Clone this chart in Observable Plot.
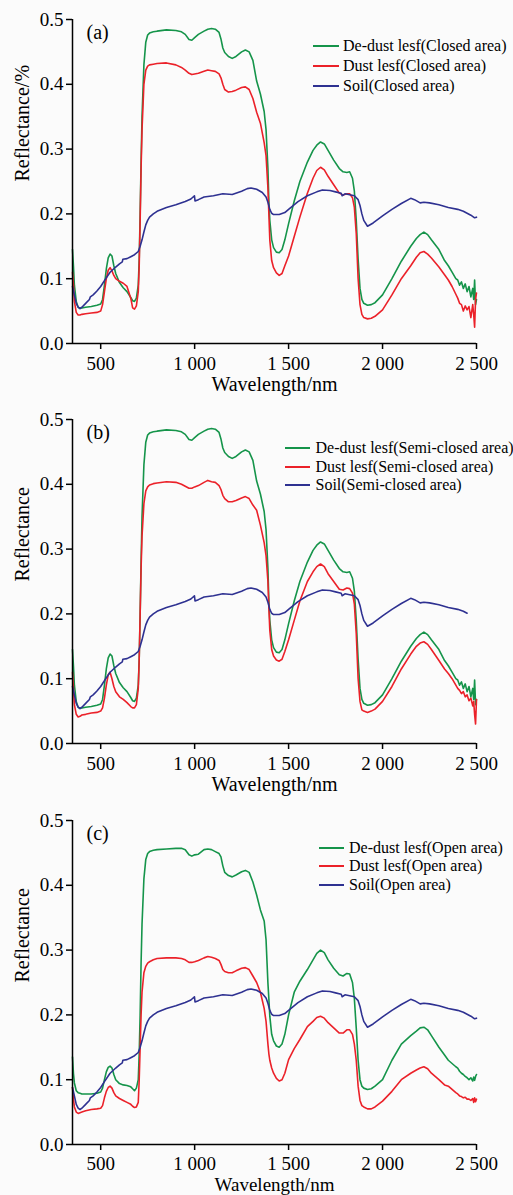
<!DOCTYPE html>
<html><head><meta charset="utf-8">
<script src="https://cdn.jsdelivr.net/npm/d3@7"></script>
<script src="https://cdn.jsdelivr.net/npm/@observablehq/plot@0.6"></script>
<style>
html,body{margin:0;padding:0;background:#fbfbfb;}
#root{width:513px;height:1195px;overflow:hidden;font-family:"Liberation Serif",serif;}
.panel{position:relative;width:513px;overflow:visible;}
.panel svg{display:block;font-family:"Liberation Serif",serif;}
.panel svg text{font-family:"Liberation Serif",serif;}
.lg-row{position:absolute;height:20px;line-height:20px;font-size:16px;color:#000;white-space:nowrap;font-family:"Liberation Serif",serif;}
.lg-sw{position:absolute;top:9px;height:2px;}
</style></head><body><div id="root"></div>
<script>
// ---- data ----
const wavelengths = [350,355,360,370,380,390,400,420,450,480,
500,510,520,530,540,550,560,570,580,600,
620,640,660,670,680,690,700,705,710,715,
720,730,740,750,760,780,800,850,900,930,
950,970,985,1000,1020,1050,1070,1090,1110,1130,
1140,1150,1160,1180,1200,1220,1250,1270,1290,1310,
1330,1350,1370,1380,1390,1395,1400,1410,1420,1435,
1450,1465,1480,1500,1530,1560,1600,1630,1650,1670,
1690,1710,1740,1770,1790,1810,1825,1840,1850,1860,
1870,1880,1890,1900,1920,1940,1960,2000,2050,2100,
2150,2180,2200,2220,2240,2260,2300,2330,2350,2370,
2390,2400,2410,2420,2430,2440,2450,2460,2470,2480,
2485,2490,2495,2500];

// De-dust leaf, closed and semi-closed areas (identical curves in the figure)
const deDustClosed = [0.145,0.12,0.09,0.065,0.056,0.054,0.055,0.056,0.057,0.059,
0.061,0.068,0.09,0.115,0.132,0.138,0.135,0.12,0.108,0.094,
0.086,0.08,0.071,0.066,0.065,0.07,0.09,0.13,0.2,0.28,
0.35,0.43,0.465,0.476,0.479,0.481,0.482,0.484,0.483,0.481,
0.477,0.469,0.468,0.472,0.477,0.482,0.485,0.486,0.485,0.48,
0.47,0.456,0.449,0.443,0.44,0.443,0.45,0.453,0.45,0.437,
0.405,0.385,0.358,0.33,0.27,0.22,0.19,0.16,0.148,0.141,
0.14,0.145,0.16,0.185,0.22,0.25,0.28,0.298,0.306,0.311,
0.308,0.298,0.283,0.27,0.265,0.264,0.265,0.255,0.235,0.19,
0.13,0.085,0.068,0.062,0.059,0.06,0.063,0.075,0.1,0.127,
0.15,0.162,0.168,0.172,0.168,0.16,0.145,0.128,0.12,0.11,
0.1,0.098,0.09,0.095,0.085,0.092,0.08,0.088,0.072,0.085,
0.068,0.098,0.06,0.068];
const deDustSemiClosed = deDustClosed;

const dustClosed = [0.11,0.09,0.065,0.048,0.044,0.044,0.045,0.046,0.047,0.048,
0.05,0.06,0.08,0.1,0.113,0.117,0.112,0.105,0.1,0.096,
0.093,0.088,0.07,0.055,0.053,0.058,0.08,0.12,0.19,0.27,
0.33,0.4,0.422,0.428,0.43,0.431,0.432,0.433,0.43,0.426,
0.422,0.417,0.415,0.416,0.417,0.42,0.422,0.421,0.42,0.416,
0.41,0.4,0.392,0.388,0.389,0.391,0.395,0.396,0.392,0.378,
0.357,0.34,0.31,0.29,0.24,0.2,0.16,0.128,0.117,0.109,
0.105,0.108,0.12,0.135,0.165,0.195,0.232,0.255,0.267,0.272,
0.268,0.258,0.245,0.232,0.229,0.231,0.231,0.225,0.21,0.17,
0.1,0.06,0.045,0.04,0.038,0.039,0.042,0.052,0.075,0.1,
0.12,0.133,0.14,0.142,0.138,0.132,0.118,0.106,0.098,0.088,
0.076,0.07,0.062,0.06,0.05,0.058,0.052,0.057,0.04,0.06,
0.045,0.025,0.068,0.078];

const dustSemiClosed = [0.11,0.085,0.06,0.045,0.041,0.042,0.044,0.045,0.047,0.048,
0.05,0.055,0.07,0.09,0.106,0.11,0.1,0.088,0.08,0.072,
0.068,0.063,0.057,0.055,0.055,0.06,0.085,0.13,0.2,0.27,
0.32,0.37,0.39,0.396,0.399,0.401,0.402,0.404,0.403,0.4,
0.397,0.394,0.394,0.396,0.398,0.403,0.406,0.404,0.403,0.398,
0.392,0.383,0.378,0.373,0.373,0.375,0.379,0.381,0.378,0.368,
0.36,0.337,0.31,0.29,0.25,0.21,0.175,0.145,0.135,0.129,
0.127,0.13,0.142,0.16,0.19,0.22,0.25,0.265,0.273,0.277,
0.273,0.262,0.25,0.238,0.237,0.24,0.239,0.232,0.215,0.17,
0.1,0.065,0.052,0.05,0.048,0.05,0.053,0.065,0.088,0.115,
0.138,0.15,0.155,0.157,0.153,0.145,0.128,0.115,0.108,0.1,
0.09,0.085,0.082,0.077,0.08,0.072,0.075,0.066,0.07,0.058,
0.065,0.045,0.03,0.068];

const deDustOpen = [0.135,0.11,0.095,0.083,0.08,0.079,0.078,0.078,0.078,0.079,
0.081,0.087,0.1,0.112,0.119,0.121,0.118,0.108,0.1,0.094,
0.092,0.091,0.089,0.086,0.083,0.087,0.1,0.14,0.2,0.28,
0.34,0.41,0.44,0.449,0.452,0.454,0.455,0.456,0.457,0.457,
0.455,0.447,0.445,0.447,0.448,0.455,0.456,0.455,0.452,0.449,
0.444,0.43,0.42,0.415,0.413,0.416,0.421,0.423,0.42,0.405,
0.385,0.362,0.345,0.316,0.249,0.225,0.198,0.17,0.16,0.152,
0.15,0.155,0.17,0.2,0.235,0.252,0.27,0.285,0.295,0.3,
0.296,0.285,0.272,0.262,0.26,0.264,0.263,0.25,0.225,0.18,
0.13,0.1,0.09,0.087,0.085,0.086,0.09,0.1,0.13,0.155,
0.168,0.175,0.18,0.181,0.177,0.168,0.15,0.138,0.13,0.125,
0.12,0.118,0.113,0.11,0.108,0.105,0.103,0.1,0.103,0.098,
0.104,0.099,0.105,0.108];

const dustOpen = [0.088,0.07,0.058,0.05,0.048,0.049,0.05,0.052,0.054,0.055,
0.056,0.06,0.072,0.082,0.088,0.09,0.087,0.08,0.075,0.071,
0.068,0.065,0.062,0.059,0.057,0.058,0.065,0.1,0.15,0.2,
0.235,0.265,0.275,0.28,0.282,0.285,0.287,0.288,0.288,0.287,
0.285,0.281,0.281,0.282,0.284,0.288,0.29,0.289,0.287,0.284,
0.278,0.27,0.267,0.265,0.265,0.268,0.272,0.273,0.27,0.26,
0.25,0.235,0.21,0.19,0.155,0.14,0.13,0.118,0.11,0.102,
0.098,0.1,0.11,0.131,0.148,0.162,0.182,0.19,0.196,0.198,
0.195,0.188,0.18,0.172,0.172,0.177,0.177,0.17,0.155,0.13,
0.09,0.068,0.06,0.058,0.055,0.055,0.058,0.067,0.082,0.1,
0.11,0.115,0.118,0.12,0.117,0.11,0.1,0.092,0.09,0.085,
0.08,0.078,0.075,0.074,0.072,0.073,0.07,0.07,0.068,0.071,
0.065,0.072,0.066,0.07];

const soilWavelengths = [350,360,370,380,390,400,420,440,445,460,480,500,520,550,580,600,615,618,640,660,680,700,710,720,730,740,750,760,780,800,850,900,950,980,999,1002,1020,1050,1100,1150,1200,1250,1280,1300,1330,1360,1380,1390,1400,1410,1420,1450,1480,1500,1550,1600,1650,1680,1720,1750,1780,1785,1800,1850,1870,1880,1890,1900,1920,1950,2000,2050,2100,2150,2170,2200,2220,2250,2300,2350,2400,2430,2450,2470,2490,2500];
const soilReflectance = [0.088,0.075,0.062,0.056,0.054,0.056,0.062,0.068,0.072,0.075,0.081,0.088,0.097,0.11,0.118,0.123,0.126,0.13,0.131,0.134,0.137,0.142,0.15,0.16,0.172,0.183,0.19,0.195,0.2,0.204,0.21,0.214,0.219,0.223,0.228,0.22,0.222,0.226,0.228,0.231,0.23,0.235,0.239,0.24,0.238,0.233,0.226,0.218,0.207,0.201,0.199,0.199,0.202,0.207,0.219,0.228,0.234,0.237,0.236,0.234,0.232,0.228,0.231,0.228,0.222,0.213,0.2,0.19,0.181,0.186,0.197,0.207,0.216,0.224,0.222,0.217,0.218,0.217,0.214,0.21,0.207,0.204,0.201,0.198,0.194,0.195];

const xDomain = [350, 2500];
const yDomain = [0, 0.5];
const xTicks = [500,1000,1500,2000,2500];
const xTickLabels = ["500","1 000","1 500","2 000","2 500"];
const yTicks = [0,0.1,0.2,0.3,0.4,0.5];
const yTickLabels = ["0.0","0.1","0.2","0.3","0.4","0.5"];
const panelTags = ["(a)","(b)","(c)"];
const yLabels = ["Reflectance/%","Reflectance","Reflectance"];
const xLabel = "Wavelength/nm";
const areaNames = ["Closed area","Semi-closed area","Open area"];
const seriesNames = ["De-dust lesf","Dust lesf","Soil"];
const soilLastWavelength = [2500,2450,2500];

const colors = ["#15944a","#eb2129","#2e3191"];
const FONT = "Liberation Serif";

// ---- layout ----
const layouts = [
  {height:400, marginTop:19, tickPad:7, xLabelDy:41, xLabelSize:20, legendLeft:313, legendGap:4, swatch:26, legendTop:46, legendStep:20.2},
  {height:400, marginTop:19, tickPad:7, xLabelDy:41, xLabelSize:20, legendLeft:285, legendGap:5.5, swatch:25, legendTop:47.8, legendStep:18.7},
  {height:400, marginTop:20, tickPad:6, xLabelDy:40.5, xLabelSize:19, legendLeft:319, legendGap:5, swatch:25, legendTop:48, legendStep:18.4}
];
const deDustSeries = [deDustClosed, deDustSemiClosed, deDustOpen];
const dustSeries = [dustClosed, dustSemiClosed, dustOpen];

const root = document.getElementById("root");

layouts.forEach((L, k) => {
  const toRows = (vals) => wavelengths.map((w, i) => ({w, r: vals[i]}));
  const soilRows = soilWavelengths.map((w, i) => ({w, r: soilReflectance[i]})).filter(d => d.w <= soilLastWavelength[k]);
  const plotH = 324;
  const chart = Plot.plot({
    width: 513,
    height: L.height,
    marginTop: L.marginTop,
    marginBottom: L.height - L.marginTop - plotH,
    marginLeft: 72,
    marginRight: 37,
    style: {background: "transparent", fontFamily: FONT, fontSize: "19px", color: "#000", overflow: "visible"},
    x: {domain: xDomain},
    y: {domain: yDomain},
    marks: [
      Plot.line(toRows(deDustSeries[k]), {x: "w", y: "r", stroke: colors[0], strokeWidth: 1.6}),
      Plot.line(toRows(dustSeries[k]), {x: "w", y: "r", stroke: colors[1], strokeWidth: 1.6}),
      Plot.line(soilRows, {x: "w", y: "r", stroke: colors[2], strokeWidth: 1.6}),
      Plot.ruleY([yDomain[0]], {stroke: "#000", strokeWidth: 1.5}),
      Plot.ruleX([xDomain[0]], {stroke: "#000", strokeWidth: 1.5}),
      Plot.axisX({ticks: xTicks, tickFormat: d => xTickLabels[xTicks.indexOf(d)], tickSize: 6, tickPadding: L.tickPad, fontSize: 19, fontFamily: FONT, label: null, strokeWidth: 1.5}),
      Plot.axisY({ticks: yTicks, tickFormat: d => yTickLabels[yTicks.findIndex(t => Math.abs(t - d) < 1e-9)], tickSize: 6, tickPadding: 3, fontSize: 19, fontFamily: FONT, label: null, strokeWidth: 1.5}),
      Plot.text([yLabels[k]], {frameAnchor: "left", dx: -50, rotate: -90, fontSize: 20, fontFamily: FONT, lineAnchor: "middle", fill: "#000"}),
      Plot.text([xLabel], {frameAnchor: "bottom", dy: L.xLabelDy, fontSize: L.xLabelSize, fontFamily: FONT, lineAnchor: "middle", fill: "#000"}),
      Plot.text([panelTags[k]], {frameAnchor: "top-left", dx: 14, dy: 13, textAnchor: "start", lineAnchor: "middle", fontSize: 20, fontFamily: FONT, fill: "#000"})
    ]
  });
  const panel = document.createElement("div");
  panel.className = "panel";
  panel.style.height = L.height + "px";
  panel.appendChild(chart);
  seriesNames.forEach((name, j) => {
    const row = document.createElement("div");
    row.className = "lg-row";
    row.style.left = L.legendLeft + "px";
    row.style.top = (L.legendTop + j * L.legendStep - 10) + "px";
    const sw = document.createElement("div");
    sw.className = "lg-sw";
    sw.style.left = "0px";
    sw.style.width = L.swatch + "px";
    sw.style.background = colors[j];
    row.appendChild(sw);
    const tx = document.createElement("span");
    tx.style.marginLeft = (L.swatch + L.legendGap) + "px";
    tx.textContent = name + "(" + areaNames[k] + ")";
    row.appendChild(tx);
    panel.appendChild(row);
  });
  root.appendChild(panel);
});
</script></body></html>
